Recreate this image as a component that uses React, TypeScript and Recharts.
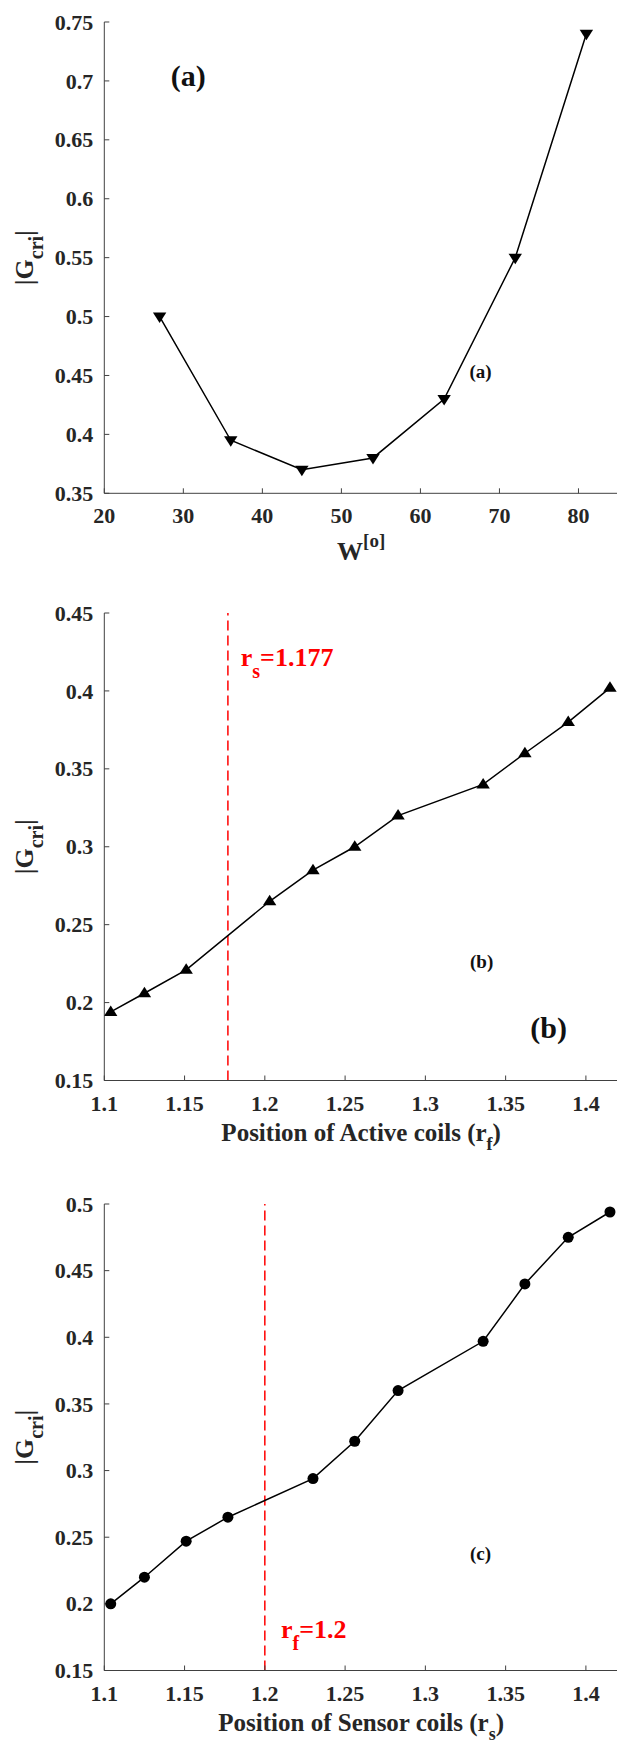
import { LineChart, Line, XAxis, YAxis, ReferenceLine, ReferenceDot } from 'recharts';

const serif = '"Liberation Serif", "Times New Roman", Times, serif';
const axisGrey = '#404040';
const textGrey = '#262626';
const red = '#ff0000';

// panel (a): |G_cri| against W
const wAngles = [27, 36, 45, 54, 63, 72, 81];
const gA = [0.5, 0.395, 0.37, 0.38, 0.43, 0.55, 0.74];
const wTicks = [20, 30, 40, 50, 60, 70, 80];
const gTicksA = [0.35, 0.4, 0.45, 0.5, 0.55, 0.6, 0.65, 0.7, 0.75];

// panel (b): position of active coils
const rfPos = [1.104, 1.125, 1.151, 1.203, 1.23, 1.256, 1.283, 1.336, 1.362, 1.389, 1.415];
const gB = [0.194, 0.206, 0.221, 0.265, 0.285, 0.3, 0.32, 0.34, 0.36, 0.38, 0.402];
const gTicksB = [0.15, 0.2, 0.25, 0.3, 0.35, 0.4, 0.45];
const rsFixed = 1.177;

// panel (c): position of sensor coils
const rsPos = [1.104, 1.125, 1.151, 1.177, 1.23, 1.256, 1.283, 1.336, 1.362, 1.389, 1.415];
const gC = [0.2, 0.22, 0.247, 0.265, 0.294, 0.322, 0.36, 0.397, 0.44, 0.475, 0.494];
const gTicksC = [0.15, 0.2, 0.25, 0.3, 0.35, 0.4, 0.45, 0.5];
const rfFixed = 1.2;

const posTicks = [1.1, 1.15, 1.2, 1.25, 1.3, 1.35, 1.4];

type Note = { x: number; y: number; main: string; sub?: string; rest?: string; size: number; color: string };

const notesA: Note[] = [
  { x: 28.4, y: 0.696, main: '(a)', size: 30, color: '#111' },
  { x: 66.2, y: 0.448, main: '(a)', size: 19, color: '#111' },
];
const notesB: Note[] = [
  { x: 1.185, y: 0.4157, main: 'r', sub: 's', rest: '=1.177', size: 26, color: red },
  { x: 1.3278, y: 0.2219, main: '(b)', size: 19, color: '#111' },
  { x: 1.3654, y: 0.1774, main: '(b)', size: 30, color: '#111' },
];
const notesC: Note[] = [
  { x: 1.2101, y: 0.1746, main: 'r', sub: 'f', rest: '=1.2', size: 26, color: red },
  { x: 1.3278, y: 0.2331, main: '(c)', size: 19, color: '#111' },
];

const zip = (xs: number[], ys: number[]) => xs.map((x, i) => ({ x, y: ys[i] }));

const triDown = (p: any) => (
  <path key={`m${p.index}`} d={`M${p.cx - 6.7},${p.cy - 4}L${p.cx + 6.7},${p.cy - 4}L${p.cx},${p.cy + 6.5}Z`} fill="#000" />
);
const triUp = (p: any) => (
  <path key={`m${p.index}`} d={`M${p.cx - 6.7},${p.cy + 4}L${p.cx + 6.7},${p.cy + 4}L${p.cx},${p.cy - 6.5}Z`} fill="#000" />
);
const circle = (p: any) => <circle key={`m${p.index}`} cx={p.cx} cy={p.cy} r={5.5} fill="#000" />;

const PLOT_LEFT = 104.3;
const CHART_W = 640;
const RIGHT_MARGIN = 22; // plot right edge sits at 618, just past the page edge
const TOP_PAD = 22;
const X_AXIS_H = 85;
const xMid = (PLOT_LEFT + CHART_W - RIGHT_MARGIN) / 2;

// tick labels drawn by hand so the serif bold font sticks
const xTick = (p: any) => (
  <text x={p.x} y={p.y} dy={15.6} textAnchor="middle" fontFamily={serif} fontWeight="bold" fontSize={22} fill={textGrey}>
    {p.payload.value}
  </text>
);
const yTick = (p: any) => (
  <text x={p.x} y={p.y} dy={7.6} textAnchor="end" fontFamily={serif} fontWeight="bold" fontSize={22} fill={textGrey}>
    {p.payload.value}
  </text>
);

type PanelProps = {
  plotTop: number;
  plotH: number;
  data: { x: number; y: number }[];
  xDomain: [number, number];
  xTicks: number[];
  yDomain: [number, number];
  yTicks: number[];
  marker: (p: any) => JSX.Element;
  xTitle: JSX.Element;
  titleGap: number;
  refX?: number;
  notes: Note[];
};

const Panel = ({ plotTop, plotH, data, xDomain, xTicks, yDomain, yTicks, marker, xTitle, titleGap, refX, notes }: PanelProps) => {
  const cy = TOP_PAD + plotH / 2;
  const bottom = TOP_PAD + plotH;
  return (
    <div style={{ position: 'absolute', left: 0, top: plotTop - TOP_PAD }}>
      <LineChart
        width={CHART_W}
        height={TOP_PAD + plotH + X_AXIS_H}
        data={data}
        margin={{ top: TOP_PAD, right: RIGHT_MARGIN, left: 0, bottom: 0 }}
      >
        <XAxis
          dataKey="x"
          type="number"
          domain={xDomain}
          ticks={xTicks}
          interval={0}
          allowDataOverflow
          height={X_AXIS_H}
          tickSize={-5}
          tickMargin={19.5}
          stroke={axisGrey}
          tick={xTick}
          label={{
            content: () => (
              <text x={xMid} y={bottom + titleGap} textAnchor="middle" fontFamily={serif} fontWeight="bold" fontSize={25} fill={textGrey}>
                {xTitle}
              </text>
            ),
          }}
        />
        <XAxis
          xAxisId="top"
          orientation="top"
          dataKey="x"
          type="number"
          domain={xDomain}
          ticks={xTicks}
          interval={0}
          allowDataOverflow
          height={0}
          tickSize={-5}
          tickFormatter={() => ''}
          stroke={axisGrey}
        />
        <YAxis
          type="number"
          domain={yDomain}
          ticks={yTicks}
          interval={0}
          allowDataOverflow
          width={PLOT_LEFT}
          tickSize={-5}
          tickMargin={16}
          stroke={axisGrey}
          tick={yTick}
          label={{
            content: () => (
              <text x={33} y={cy} transform={`rotate(-90 33 ${cy})`} textAnchor="middle" fontFamily={serif} fontWeight="bold" fontSize={26} fill={textGrey}>
                |G<tspan fontSize={20} dy={10}>cri</tspan>
                <tspan dy={-10}>|</tspan>
              </text>
            ),
          }}
        />
        <YAxis
          yAxisId="right"
          orientation="right"
          type="number"
          domain={yDomain}
          ticks={yTicks}
          interval={0}
          allowDataOverflow
          width={0}
          tickSize={-5}
          tickFormatter={() => ''}
          stroke={axisGrey}
        />
        {refX !== undefined && (
          <ReferenceLine x={refX} stroke={red} strokeWidth={1.5} strokeDasharray="10 5" />
        )}
        <Line
          dataKey="y"
          stroke="#000"
          strokeWidth={1.5}
          dot={marker}
          activeDot={false}
          isAnimationActive={false}
        />
        {notes.map((n, i) => (
          <ReferenceDot
            key={i}
            x={n.x}
            y={n.y}
            r={0}
            shape={(p: any) => (
              <text x={p.cx} y={p.cy} fontFamily={serif} fontWeight="bold" fontSize={n.size} fill={n.color}>
                {n.main}
                {n.sub && (
                  <tspan fontSize={20} dy={12}>
                    {n.sub}
                  </tspan>
                )}
                {n.rest && <tspan dy={-12}>{n.rest}</tspan>}
              </text>
            )}
          />
        ))}
      </LineChart>
    </div>
  );
};

export default function App() {
  return (
    <div
      style={{
        position: 'absolute',
        left: 0,
        top: 0,
        width: 617,
        height: 1742,
        overflow: 'hidden',
        background: '#fff',
        fontFamily: serif,
        fontWeight: 'bold',
      }}
    >
      <Panel
        plotTop={22}
        plotH={471.3}
        data={zip(wAngles, gA)}
        xDomain={[20, 85]}
        xTicks={wTicks}
        yDomain={[0.35, 0.75]}
        yTicks={gTicksA}
        marker={triDown}
        titleGap={66.7}
        xTitle={
          <>
            <tspan fontSize={26}>W</tspan>
            <tspan fontSize={19} dy={-13}>[o]</tspan>
          </>
        }
        notes={notesA}
      />
      <Panel
        plotTop={612.5}
        plotH={467.5}
        data={zip(rfPos, gB)}
        xDomain={[1.1, 1.42]}
        xTicks={posTicks}
        yDomain={[0.15, 0.45]}
        yTicks={gTicksB}
        marker={triUp}
        titleGap={60}
        refX={rsFixed}
        xTitle={
          <>
            Position of Active coils (r<tspan fontSize={18} dy={9}>f</tspan>
            <tspan dy={-9}>)</tspan>
          </>
        }
        notes={notesB}
      />
      <Panel
        plotTop={1204.2}
        plotH={466.5}
        data={zip(rsPos, gC)}
        xDomain={[1.1, 1.42]}
        xTicks={posTicks}
        yDomain={[0.15, 0.5]}
        yTicks={gTicksC}
        marker={circle}
        titleGap={60}
        refX={rfFixed}
        xTitle={
          <>
            Position of Sensor coils (r<tspan fontSize={18} dy={9}>s</tspan>
            <tspan dy={-9}>)</tspan>
          </>
        }
        notes={notesC}
      />
    </div>
  );
}
